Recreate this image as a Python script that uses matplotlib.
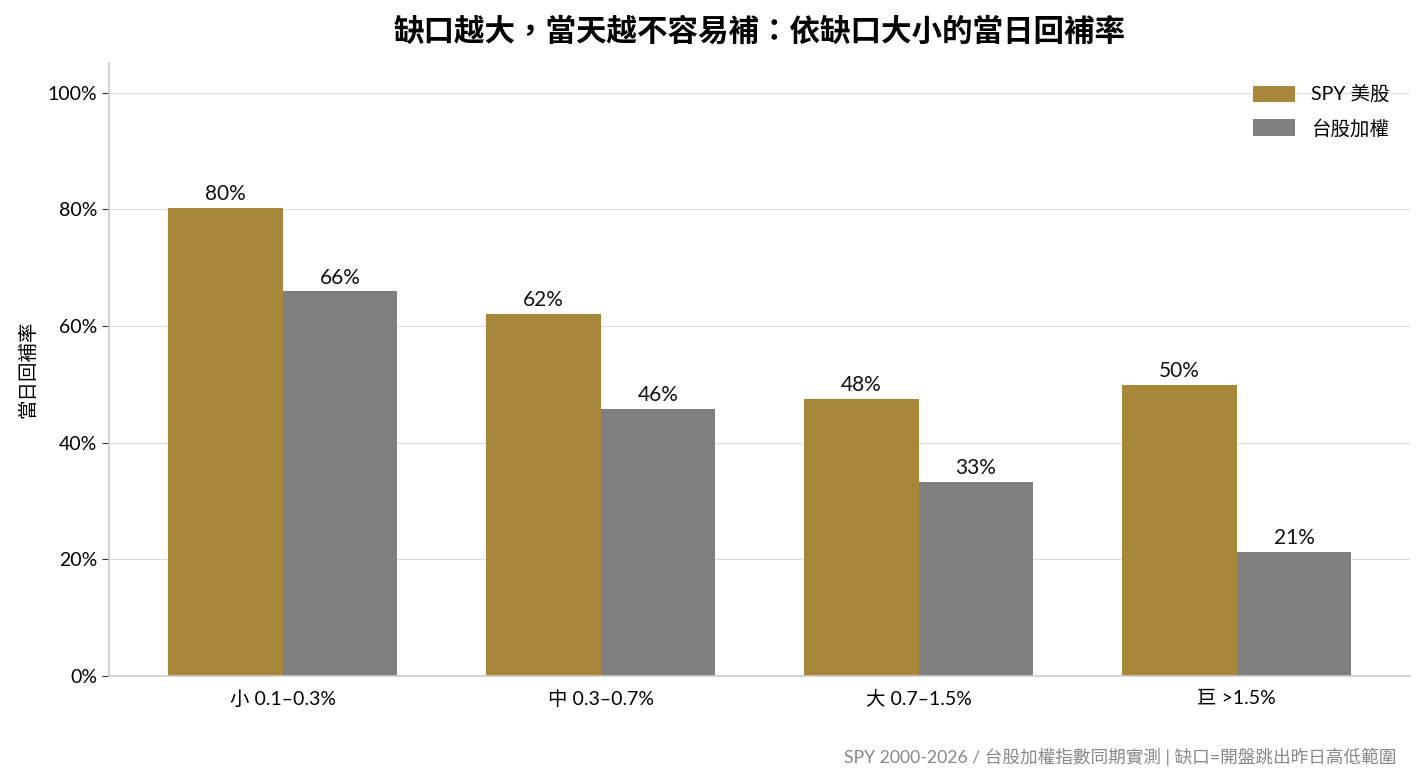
import numpy as np
import matplotlib
matplotlib.use("Agg")
import matplotlib.pyplot as plt

plt.rcParams['font.family'] = ['Lato', 'Noto Sans CJK TC', 'DejaVu Sans']

# data
categories = ["小 0.1–0.3%", "中 0.3–0.7%", "大 0.7–1.5%", "巨 >1.5%"]
spy = [0.803, 0.621, 0.475, 0.499]
twse = [0.660, 0.458, 0.333, 0.213]
spy_labels = ["80%", "62%", "48%", "50%"]
twse_labels = ["66%", "46%", "33%", "21%"]
series_names = ["SPY 美股", "台股加權"]

gold = "#A8873A"
grey = "#7F7F7F"

fig = plt.figure(figsize=(14.25, 7.79), dpi=100)
ax = fig.add_axes([109 / 1425, 1 - 676 / 779, (1410 - 109) / 1425, (676 - 63) / 779])

x = np.arange(len(categories))
w = 0.36
b1 = ax.bar(x - w / 2, spy, w, color=gold, label=series_names[0], zorder=2)
b2 = ax.bar(x + w / 2, twse, w, color=grey, label=series_names[1], zorder=2)

for bars, labs in [(b1, spy_labels), (b2, twse_labels)]:
    for r, lab in zip(bars, labs):
        ax.text(r.get_x() + r.get_width() / 2, r.get_height() + 0.006, lab,
                ha="center", va="bottom", fontsize=15, color="#111111")

ax.set_xlim(-0.547, 3.545)
ax.set_ylim(0, 1.051)
ax.set_yticks([0, 0.2, 0.4, 0.6, 0.8, 1.0])
ax.set_yticklabels(["0%", "20%", "40%", "60%", "80%", "100%"])
ax.set_xticks(x)
ax.set_xticklabels(categories)
ax.tick_params(axis="y", labelsize=14, color="#333333", length=5)
ax.tick_params(axis="x", labelsize=14, length=0, pad=10)

ax.grid(axis="y", color="#dddddd", linewidth=0.8, zorder=0)
ax.set_axisbelow(True)
for s in ["top", "right"]:
    ax.spines[s].set_visible(False)
for s in ["left", "bottom"]:
    ax.spines[s].set_color("#cccccc")
    ax.spines[s].set_linewidth(1.2)

ax.set_ylabel("當日回補率", fontsize=14, labelpad=8)
ax.set_title("缺口越大，當天越不容易補：依缺口大小的當日回補率",
             fontsize=22, fontweight="bold", pad=16)

ax.legend(loc="upper right", bbox_to_anchor=(0.995, 0.985), frameon=False,
          fontsize=14, handlelength=2.15, handleheight=0.9, labelspacing=0.75,
          handletextpad=0.85, borderaxespad=0.3)

fig.text(1396 / 1425, 1 - 757 / 779,
         "SPY 2000-2026 / 台股加權指數同期實測 | 缺口=開盤跳出昨日高低範圍",
         ha="right", va="center", fontsize=12.7, color="#888888")

fig.savefig("out.png", dpi=100)
